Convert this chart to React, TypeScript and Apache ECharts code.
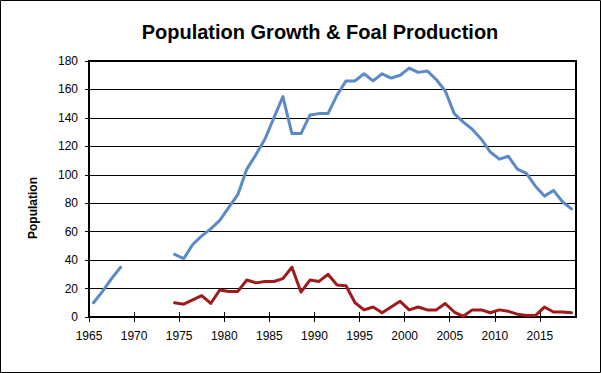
import React, { useEffect, useRef } from "react";
import * as echarts from "echarts";

const TITLE = "Population Growth & Foal Production";
const Y_NAME = "Population";

const popYears: number[] = [
  1965, 1966, 1967, 1968, 1969, 1970, 1971, 1972, 1973, 1974, 1975, 1976, 1977, 1978,
  1979, 1980, 1981, 1982, 1983, 1984, 1985, 1986, 1987, 1988, 1989, 1990, 1991, 1992,
  1993, 1994, 1995, 1996, 1997, 1998, 1999, 2000, 2001, 2002, 2003, 2004, 2005, 2006,
  2007, 2008, 2009, 2010, 2011, 2012, 2013, 2014, 2015, 2016, 2017, 2018,
];
const population: (number | null)[] = [
  10, 18, 27, 35, null, null, null, null, null, 44, 41, 51, 57, 62,
  68, 77, 86, 104, 114, 125, 140, 155, 129, 129, 142, 143, 143, 156,
  166, 166, 171, 166, 171, 168, 170, 175, 172, 173, 167, 159, 143, 137,
  132, 125, 116, 111, 113, 104, 101, 92, 85, 89, 81, 76,
];

const foalYears: number[] = [
  1974, 1975, 1976, 1977, 1978, 1979, 1980, 1981, 1982, 1983, 1984, 1985, 1986, 1987,
  1988, 1989, 1990, 1991, 1992, 1993, 1994, 1995, 1996, 1997, 1998, 1999, 2000, 2001,
  2002, 2003, 2004, 2005, 2006, 2007, 2008, 2009, 2010, 2011, 2012, 2013, 2014, 2015,
  2016, 2017, 2018,
];
const foals: number[] = [
  10, 9, 12, 15, 9.5, 19, 18, 18, 26, 24, 25, 25, 27, 35,
  17.5, 26, 25, 30, 22.5, 22, 10, 5, 7, 3, 7, 11, 5, 7,
  5, 5, 9.5, 3.5, 0.5, 5, 5, 3, 5, 4, 2, 1, 1, 7,
  3.5, 3.5, 3,
];

const X_MIN = 1965;
const X_MAX = 2019;
const X_LABEL_LAST = 2015;

export default function App() {
  const ref = useRef<HTMLDivElement>(null);
  useEffect(() => {
    if (!ref.current) return;
    const chart = echarts.init(ref.current, null, { renderer: "svg" });
    const font = "'Liberation Sans', Arial, sans-serif";
    // each year's point sits in the middle of its year span
    const popData = popYears.map((y, i) => [y + 0.5, population[i]]);
    const foalData = foalYears.map((y, i) => [y + 0.5, foals[i]]);
    chart.setOption({
      animation: false,
      backgroundColor: "#ffffff",
      grid: {
        left: 89,
        top: 61,
        right: 25,
        bottom: 56,
        show: true,
        borderColor: "#000",
        borderWidth: 2,
        backgroundColor: "transparent",
      },
      xAxis: [
        {
          type: "value",
          min: X_MIN,
          max: X_MAX,
          interval: 5,
          axisLine: { show: true, lineStyle: { color: "#000", width: 2 } },
          axisTick: { show: true, inside: false, length: 5, lineStyle: { color: "#000", width: 1 } },
          axisLabel: {
            show: true,
            margin: 13,
            color: "#000",
            fontSize: 12,
            fontFamily: font,
            showMaxLabel: false,
            formatter: (v: number) => (v % 5 === 0 && v <= X_LABEL_LAST ? String(v) : ""),
          },
          splitLine: { show: false },
        },
        {
          type: "value",
          gridIndex: 0,
          position: "bottom",
          min: X_MIN,
          max: X_MAX,
          interval: 5,
          axisLine: { show: false },
          axisTick: { show: true, inside: true, length: 5, lineStyle: { color: "#000", width: 1 } },
          axisLabel: { show: false },
          splitLine: { show: false },
        },
      ],
      yAxis: {
        type: "value",
        min: 0,
        max: 180,
        interval: 20,
        axisLine: { show: true, lineStyle: { color: "#000", width: 2 } },
        axisTick: { show: true, inside: false, length: 4, lineStyle: { color: "#000", width: 1 } },
        axisLabel: { margin: 11, color: "#000", fontSize: 12, fontFamily: font },
        splitLine: { show: true, lineStyle: { color: "#000", width: 1 } },
      },
      series: [
        {
          name: "Population",
          type: "line",
          xAxisIndex: 0,
          data: popData,
          showSymbol: false,
          connectNulls: false,
          lineStyle: { color: "#5B8BC7", width: 3, join: "round", cap: "round" },
          itemStyle: { color: "#5B8BC7" },
          z: 3,
        },
        {
          name: "Foals",
          type: "line",
          xAxisIndex: 0,
          data: foalData,
          showSymbol: false,
          lineStyle: { color: "#A01A1A", width: 3, join: "round", cap: "round" },
          itemStyle: { color: "#A01A1A" },
          z: 3,
        },
      ],
      graphic: [
        {
          type: "rect",
          shape: { x: 0.5, y: 0.5, width: 600, height: 372 },
          style: { fill: "none", stroke: "#000", lineWidth: 1 },
          silent: true,
        },
        {
          type: "text",
          x: 320,
          y: 32,
          style: {
            text: TITLE,
            fontFamily: font,
            fontSize: 20,
            fontWeight: "bold",
            fill: "#000",
            align: "center",
            verticalAlign: "middle",
          },
        },
        {
          type: "text",
          x: 33,
          y: 208,
          rotation: Math.PI / 2,
          style: {
            text: Y_NAME,
            fontFamily: font,
            fontSize: 12,
            fontWeight: "bold",
            fill: "#000",
            align: "center",
            verticalAlign: "middle",
          },
        },
      ],
    });
    return () => chart.dispose();
  }, []);
  return (
    <div
      ref={ref}
      style={{ position: "fixed", left: 0, top: 0, width: 601, height: 373, background: "#fff" }}
    />
  );
}
